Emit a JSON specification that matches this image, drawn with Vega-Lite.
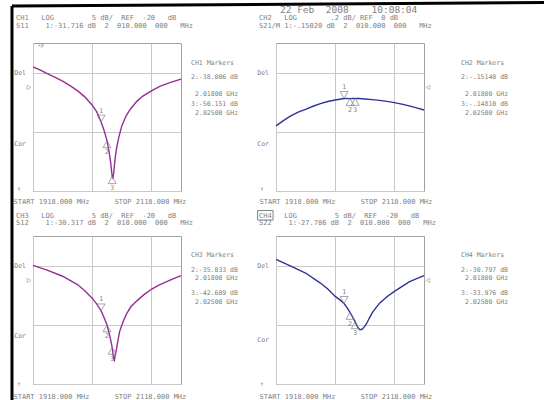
{
  "$schema": "https://vega.github.io/schema/vega-lite/v6.json",
  "background": "white",
  "autosize": {"type": "pad"},
  "padding": {"left": 9, "top": 0, "right": 0, "bottom": 0},
  "datasets": {
    "ch1": [
      {"f":1918,"v":-13.1},{"f":1928,"v":-14.2},{"f":1938,"v":-15.4},{"f":1948,"v":-16.6},{"f":1958,"v":-17.9},
      {"f":1968,"v":-19.4},{"f":1978,"v":-21.1},{"f":1988,"v":-23.2},{"f":1998,"v":-26.0},{"f":2004,"v":-28.2},
      {"f":2010,"v":-31.7},{"f":2014,"v":-34.5},{"f":2018,"v":-38.0},{"f":2021,"v":-42.0},{"f":2023,"v":-45.5},
      {"f":2025,"v":-50.15},{"f":2026,"v":-50.6},{"f":2027,"v":-49.0},{"f":2029,"v":-44.0},{"f":2031,"v":-40.4},
      {"f":2034,"v":-36.8},{"f":2038,"v":-33.0},{"f":2044,"v":-29.5},{"f":2050,"v":-27.2},{"f":2058,"v":-24.8},
      {"f":2066,"v":-23.0},{"f":2078,"v":-21.2},{"f":2090,"v":-19.6},{"f":2104,"v":-18.3},{"f":2118,"v":-17.2}
    ],
    "ch2": [
      {"f":1918,"v":-0.52},{"f":1928,"v":-0.45},{"f":1938,"v":-0.386},{"f":1948,"v":-0.335},{"f":1958,"v":-0.296},
      {"f":1968,"v":-0.255},{"f":1978,"v":-0.22},{"f":1988,"v":-0.19},{"f":1998,"v":-0.17},{"f":2010,"v":-0.1502},
      {"f":2018,"v":-0.1514},{"f":2025,"v":-0.1481},{"f":2030,"v":-0.15},{"f":2038,"v":-0.157},{"f":2048,"v":-0.165},
      {"f":2058,"v":-0.175},{"f":2068,"v":-0.189},{"f":2078,"v":-0.206},{"f":2088,"v":-0.226},{"f":2098,"v":-0.25},
      {"f":2108,"v":-0.277},{"f":2118,"v":-0.306}
    ],
    "ch3": [
      {"f":1918,"v":-14.9},{"f":1938,"v":-16.6},{"f":1958,"v":-18.6},{"f":1978,"v":-21.4},{"f":1988,"v":-23.5},
      {"f":1998,"v":-26.0},{"f":2004,"v":-27.9},{"f":2010,"v":-30.3},{"f":2014,"v":-32.5},{"f":2018,"v":-35.0},
      {"f":2022,"v":-39.0},{"f":2025,"v":-42.6},{"f":2027,"v":-46.5},{"f":2028,"v":-47.0},{"f":2029,"v":-45.5},
      {"f":2031,"v":-43.0},{"f":2033,"v":-40.0},{"f":2035,"v":-37.3},{"f":2040,"v":-33.8},{"f":2044,"v":-31.5},
      {"f":2050,"v":-29.0},{"f":2058,"v":-27.0},{"f":2068,"v":-24.8},{"f":2078,"v":-23.0},{"f":2088,"v":-21.6},
      {"f":2098,"v":-20.5},{"f":2108,"v":-19.4},{"f":2118,"v":-18.4}
    ],
    "ch4": [
      {"f":1918,"v":-12.9},{"f":1938,"v":-15.2},{"f":1958,"v":-17.5},{"f":1978,"v":-20.9},{"f":1988,"v":-22.9},
      {"f":1998,"v":-25.4},{"f":2004,"v":-26.5},{"f":2010,"v":-27.8},{"f":2014,"v":-29.2},{"f":2018,"v":-30.8},
      {"f":2022,"v":-32.6},{"f":2025,"v":-34.0},{"f":2028,"v":-35.6},{"f":2031,"v":-36.6},{"f":2034,"v":-36.6},
      {"f":2037,"v":-35.8},{"f":2040,"v":-34.8},{"f":2044,"v":-32.8},{"f":2048,"v":-31.0},{"f":2053,"v":-29.3},
      {"f":2058,"v":-27.7},{"f":2068,"v":-25.5},{"f":2078,"v":-23.7},{"f":2088,"v":-22.1},{"f":2098,"v":-20.5},
      {"f":2108,"v":-19.4},{"f":2118,"v":-18.4}
    ],
    "m1": [{"f":2010,"v":-31.716,"id":"1"},{"f":2018,"v":-38.006,"id":"2"},{"f":2025,"v":-50.151,"id":"3"}],
    "m2": [{"f":2010,"v":-0.1502,"id":"1"},{"f":2018,"v":-0.1514,"id":"2"},{"f":2025,"v":-0.1481,"id":"3"}],
    "m3": [{"f":2010,"v":-30.317,"id":"1"},{"f":2018,"v":-35.033,"id":"2"},{"f":2025,"v":-42.609,"id":"3"}],
    "m4": [{"f":2010,"v":-27.786,"id":"1"},{"f":2018,"v":-30.797,"id":"2"},{"f":2025,"v":-33.976,"id":"3"}],
    "one": [{"k": 1}]
  },
  "columns": 2,
  "spacing": {"row": 45, "column": 95},
  "bounds": "flush",
  "concat": [
    {
      "width": 148, "height": 148,
      "layer": [
        {"data": {"name": "ch1"}, "mark": {"type": "line", "color": "#962d96", "strokeWidth": 1.4},
         "encoding": {
          "x": {"field": "f", "type": "quantitative", "scale": {"domain": [1918, 2118], "nice": false},
                "axis": {"values": [1918,1938,1958,1978,1998,2018,2038,2058,2078,2098,2118], "title": "START 1918.000 MHz \u00a0\u00a0\u00a0\u00a0\u00a0STOP 2118.000 MHz", "titleX": -20, "titleY": 10}},
          "y": {"field": "v", "type": "quantitative", "scale": {"domain": [-55, -5], "nice": false},
                "axis": {"values": [-55,-50,-45,-40,-35,-30,-25,-20,-15,-10,-5], "title": null}}}},
        {"data": {"name": "one"}, "mark": {"type": "rule", "color": "#000000", "strokeWidth": 3}, "encoding": {"x": {"datum": 1889.6}, "y": {"datum": 7.5}, "y2": {"datum": -126}}},
        {"data": {"name": "one"}, "mark": {"type": "rule", "color": "#000000", "strokeWidth": 3}, "encoding": {"x": {"datum": 1889.6}, "x2": {"datum": 2610}, "y": {"datum": 7.5}, "y2": {"datum": 8.68}}},
        {"data": {"name": "one"}, "mark": {"type": "text", "fontSize": 7}, "encoding": {"x": {"datum": 1895}, "y": {"datum": 3.45}, "text": {"value": "CH1 \u00a0\u00a0LOG \u00a0\u00a0\u00a0\u00a0\u00a0\u00a0\u00a0\u00a05 dB/ \u00a0REF \u00a0-20 \u00a0\u00a0dB"}}},
        {"data": {"name": "one"}, "mark": {"type": "text", "fontSize": 7}, "encoding": {"x": {"datum": 1895}, "y": {"datum": 0.74}, "text": {"value": "S11 \u00a0\u00a0\u00a01:-31.716 dB \u00a02 \u00a0010.000 \u00a0000 \u00a0\u00a0MHz"}}},
        {"data": {"name": "m1"}, "transform": [{"filter": "datum.id == '1'"}], "mark": {"type": "point", "shape": "triangle-down", "size": 64, "filled": false, "color": "#808080", "strokeWidth": 1, "yOffset": -3.5}, "encoding": {"x": {"field": "f", "type": "quantitative"}, "y": {"field": "v", "type": "quantitative"}}},
        {"data": {"name": "m1"}, "transform": [{"filter": "datum.id != '1'"}], "mark": {"type": "point", "shape": "triangle-up", "size": 64, "filled": false, "color": "#808080", "strokeWidth": 1, "yOffset": 3.5}, "encoding": {"x": {"field": "f", "type": "quantitative"}, "y": {"field": "v", "type": "quantitative"}}},
        {"data": {"name": "m1"}, "transform": [{"filter": "datum.id == '1'"}], "mark": {"type": "text", "align": "center", "yOffset": -11.5}, "encoding": {"x": {"field": "f", "type": "quantitative"}, "y": {"field": "v", "type": "quantitative"}, "text": {"field": "id"}}},
        {"data": {"name": "m1"}, "transform": [{"filter": "datum.id != '1'"}], "mark": {"type": "text", "align": "center", "yOffset": 11.5}, "encoding": {"x": {"field": "f", "type": "quantitative"}, "y": {"field": "v", "type": "quantitative"}, "text": {"field": "id"}}},
        {"data": {"name": "one"}, "mark": {"type": "point", "shape": "triangle-right", "size": 20, "filled": false, "color": "#909090", "strokeWidth": 0.8, "xOffset": -4}, "encoding": {"x": {"datum": 1918}, "y": {"datum": -20}}},
        {"data": {"name": "one"}, "mark": {"type": "text", "fontSize": 5}, "encoding": {"x": {"datum": 1924.8}, "y": {"datum": -6}, "text": {"value": "*P"}}},
        {"data": {"name": "one"}, "mark": {"type": "text", "align": "right"}, "encoding": {"x": {"datum": 1908.5}, "y": {"datum": -15.14}, "text": {"value": "Del"}}},
        {"data": {"name": "one"}, "mark": {"type": "text", "align": "right"}, "encoding": {"x": {"datum": 1908.5}, "y": {"datum": -39.12}, "text": {"value": "Cor"}}},
        {"data": {"name": "one"}, "mark": {"type": "text", "align": "center"}, "encoding": {"x": {"datum": 1899.1}, "y": {"datum": -54.3}, "text": {"value": "↑"}}},
        {"data": {"name": "one"}, "mark": {"type": "text"}, "encoding": {"x": {"datum": 2131.5}, "y": {"datum": -11.76}, "text": {"value": "CH1 Markers"}}},
        {"data": {"name": "one"}, "mark": {"type": "text"}, "encoding": {"x": {"datum": 2131.5}, "y": {"datum": -16.49}, "text": {"value": "2:-38.006 dB"}}},
        {"data": {"name": "one"}, "mark": {"type": "text"}, "encoding": {"x": {"datum": 2137}, "y": {"datum": -22.23}, "text": {"value": "2.01800 GHz"}}},
        {"data": {"name": "one"}, "mark": {"type": "text"}, "encoding": {"x": {"datum": 2131.5}, "y": {"datum": -25.61}, "text": {"value": "3:-50.151 dB"}}},
        {"data": {"name": "one"}, "mark": {"type": "text"}, "encoding": {"x": {"datum": 2137}, "y": {"datum": -28.65}, "text": {"value": "2.02500 GHz"}}}
      ]
    },
    {
      "width": 148, "height": 148,
      "layer": [
        {"data": {"name": "ch2"}, "mark": {"type": "line", "color": "#2d3296", "strokeWidth": 1.4},
         "encoding": {
          "x": {"field": "f", "type": "quantitative", "scale": {"domain": [1918, 2118], "nice": false},
                "axis": {"values": [1918,1938,1958,1978,1998,2018,2038,2058,2078,2098,2118], "title": "START 1918.000 MHz \u00a0\u00a0\u00a0\u00a0\u00a0STOP 2118.000 MHz", "titleX": -17, "titleY": 10}},
          "y": {"field": "v", "type": "quantitative", "scale": {"domain": [-1.4, 0.6], "nice": false},
                "axis": {"values": [-1.4,-1.2,-1.0,-0.8,-0.6,-0.4,-0.2,0,0.2,0.4,0.6], "title": null}}}},
        {"data": {"name": "one"}, "mark": {"type": "text", "fontSize": 7}, "encoding": {"x": {"datum": 1895}, "y": {"datum": 0.938}, "text": {"value": "CH2 \u00a0\u00a0LOG \u00a0\u00a0\u00a0\u00a0\u00a0\u00a0\u00a0.2 dB/ REF \u00a00 dB"}}},
        {"data": {"name": "one"}, "mark": {"type": "text", "fontSize": 7}, "encoding": {"x": {"datum": 1895}, "y": {"datum": 0.83}, "text": {"value": "S21/M 1:-.15020 dB \u00a02 \u00a0010.000 \u00a0000 \u00a0\u00a0MHz"}}},
        {"data": {"name": "m2"}, "transform": [{"filter": "datum.id == '1'"}], "mark": {"type": "point", "shape": "triangle-down", "size": 64, "filled": false, "color": "#808080", "strokeWidth": 1, "yOffset": -3.5}, "encoding": {"x": {"field": "f", "type": "quantitative"}, "y": {"field": "v", "type": "quantitative"}}},
        {"data": {"name": "m2"}, "transform": [{"filter": "datum.id != '1'"}], "mark": {"type": "point", "shape": "triangle-up", "size": 64, "filled": false, "color": "#808080", "strokeWidth": 1, "yOffset": 3.5}, "encoding": {"x": {"field": "f", "type": "quantitative"}, "y": {"field": "v", "type": "quantitative"}}},
        {"data": {"name": "m2"}, "transform": [{"filter": "datum.id == '1'"}], "mark": {"type": "text", "align": "center", "yOffset": -11.5}, "encoding": {"x": {"field": "f", "type": "quantitative"}, "y": {"field": "v", "type": "quantitative"}, "text": {"field": "id"}}},
        {"data": {"name": "m2"}, "transform": [{"filter": "datum.id != '1'"}], "mark": {"type": "text", "align": "center", "yOffset": 11.5}, "encoding": {"x": {"field": "f", "type": "quantitative"}, "y": {"field": "v", "type": "quantitative"}, "text": {"field": "id"}}},
        {"data": {"name": "one"}, "mark": {"type": "point", "shape": "triangle-left", "size": 20, "filled": false, "color": "#909090", "strokeWidth": 0.8, "xOffset": 4}, "encoding": {"x": {"datum": 2118}, "y": {"datum": 0}}},
        {"data": {"name": "one"}, "mark": {"type": "text", "fontSize": 9.5}, "encoding": {"x": {"datum": 1923.4}, "y": {"datum": 1.046}, "text": {"value": "22 Feb \u00a02008 \u00a0\u00a0\u00a010:08:04"}}},
        {"data": {"name": "one"}, "mark": {"type": "text", "align": "right"}, "encoding": {"x": {"datum": 1908.5}, "y": {"datum": 0.195}, "text": {"value": "Del"}}},
        {"data": {"name": "one"}, "mark": {"type": "text", "align": "right"}, "encoding": {"x": {"datum": 1908.5}, "y": {"datum": -0.765}, "text": {"value": "Cor"}}},
        {"data": {"name": "one"}, "mark": {"type": "text", "align": "center"}, "encoding": {"x": {"datum": 1899.1}, "y": {"datum": -1.373}, "text": {"value": "↑"}}},
        {"data": {"name": "one"}, "mark": {"type": "text"}, "encoding": {"x": {"datum": 2168}, "y": {"datum": 0.33}, "text": {"value": "CH2 Markers"}}},
        {"data": {"name": "one"}, "mark": {"type": "text"}, "encoding": {"x": {"datum": 2168}, "y": {"datum": 0.141}, "text": {"value": "2:-.15140 dB"}}},
        {"data": {"name": "one"}, "mark": {"type": "text"}, "encoding": {"x": {"datum": 2173.4}, "y": {"datum": -0.089}, "text": {"value": "2.01800 GHz"}}},
        {"data": {"name": "one"}, "mark": {"type": "text"}, "encoding": {"x": {"datum": 2168}, "y": {"datum": -0.224}, "text": {"value": "3:-.14810 dB"}}},
        {"data": {"name": "one"}, "mark": {"type": "text"}, "encoding": {"x": {"datum": 2173.4}, "y": {"datum": -0.346}, "text": {"value": "2.02500 GHz"}}}
      ]
    },
    {
      "width": 148, "height": 148,
      "layer": [
        {"data": {"name": "ch3"}, "mark": {"type": "line", "color": "#962d96", "strokeWidth": 1.4},
         "encoding": {
          "x": {"field": "f", "type": "quantitative", "scale": {"domain": [1918, 2118], "nice": false},
                "axis": {"values": [1918,1938,1958,1978,1998,2018,2038,2058,2078,2098,2118], "title": "START 1918.000 MHz \u00a0\u00a0\u00a0\u00a0\u00a0STOP 2118.000 MHz", "titleX": -20, "titleY": 12}},
          "y": {"field": "v", "type": "quantitative", "scale": {"domain": [-55, -5], "nice": false},
                "axis": {"values": [-55,-50,-45,-40,-35,-30,-25,-20,-15,-10,-5], "title": null}}}},
        {"data": {"name": "one"}, "mark": {"type": "text", "fontSize": 7}, "encoding": {"x": {"datum": 1895}, "y": {"datum": 1.757}, "text": {"value": "CH3 \u00a0\u00a0LOG \u00a0\u00a0\u00a0\u00a0\u00a0\u00a0\u00a0\u00a05 dB/ \u00a0REF \u00a0-20 \u00a0\u00a0dB"}}},
        {"data": {"name": "one"}, "mark": {"type": "text", "fontSize": 7}, "encoding": {"x": {"datum": 1895}, "y": {"datum": -0.608}, "text": {"value": "S12 \u00a0\u00a0\u00a01:-30.317 dB \u00a02 \u00a0010.000 \u00a0000 \u00a0\u00a0MHz"}}},
        {"data": {"name": "m3"}, "transform": [{"filter": "datum.id == '1'"}], "mark": {"type": "point", "shape": "triangle-down", "size": 64, "filled": false, "color": "#808080", "strokeWidth": 1, "yOffset": -3.5}, "encoding": {"x": {"field": "f", "type": "quantitative"}, "y": {"field": "v", "type": "quantitative"}}},
        {"data": {"name": "m3"}, "transform": [{"filter": "datum.id != '1'"}], "mark": {"type": "point", "shape": "triangle-up", "size": 64, "filled": false, "color": "#808080", "strokeWidth": 1, "yOffset": 3.5}, "encoding": {"x": {"field": "f", "type": "quantitative"}, "y": {"field": "v", "type": "quantitative"}}},
        {"data": {"name": "m3"}, "transform": [{"filter": "datum.id == '1'"}], "mark": {"type": "text", "align": "center", "yOffset": -11.5}, "encoding": {"x": {"field": "f", "type": "quantitative"}, "y": {"field": "v", "type": "quantitative"}, "text": {"field": "id"}}},
        {"data": {"name": "m3"}, "transform": [{"filter": "datum.id != '1'"}], "mark": {"type": "text", "align": "center", "yOffset": 11.5}, "encoding": {"x": {"field": "f", "type": "quantitative"}, "y": {"field": "v", "type": "quantitative"}, "text": {"field": "id"}}},
        {"data": {"name": "one"}, "mark": {"type": "point", "shape": "triangle-right", "size": 20, "filled": false, "color": "#909090", "strokeWidth": 0.8, "xOffset": -4}, "encoding": {"x": {"datum": 1918}, "y": {"datum": -20}}},
        {"data": {"name": "one"}, "mark": {"type": "text", "align": "right"}, "encoding": {"x": {"datum": 1908.5}, "y": {"datum": -14.97}, "text": {"value": "Del"}}},
        {"data": {"name": "one"}, "mark": {"type": "text", "align": "right"}, "encoding": {"x": {"datum": 1908.5}, "y": {"datum": -38.78}, "text": {"value": "Cor"}}},
        {"data": {"name": "one"}, "mark": {"type": "text", "align": "center"}, "encoding": {"x": {"datum": 1899.1}, "y": {"datum": -55}, "text": {"value": "↑"}}},
        {"data": {"name": "one"}, "mark": {"type": "text"}, "encoding": {"x": {"datum": 2131.5}, "y": {"datum": -11.42}, "text": {"value": "CH3 Markers"}}},
        {"data": {"name": "one"}, "mark": {"type": "text"}, "encoding": {"x": {"datum": 2131.5}, "y": {"datum": -16.49}, "text": {"value": "2:-35.033 dB"}}},
        {"data": {"name": "one"}, "mark": {"type": "text"}, "encoding": {"x": {"datum": 2137}, "y": {"datum": -19.19}, "text": {"value": "2.01800 GHz"}}},
        {"data": {"name": "one"}, "mark": {"type": "text"}, "encoding": {"x": {"datum": 2131.5}, "y": {"datum": -24.26}, "text": {"value": "3:-42.609 dB"}}},
        {"data": {"name": "one"}, "mark": {"type": "text"}, "encoding": {"x": {"datum": 2137}, "y": {"datum": -27.3}, "text": {"value": "2.02500 GHz"}}}
      ]
    },
    {
      "width": 148, "height": 148,
      "layer": [
        {"data": {"name": "ch4"}, "mark": {"type": "line", "color": "#2d3296", "strokeWidth": 1.4},
         "encoding": {
          "x": {"field": "f", "type": "quantitative", "scale": {"domain": [1918, 2118], "nice": false},
                "axis": {"values": [1918,1938,1958,1978,1998,2018,2038,2058,2078,2098,2118], "title": "START 1918.000 MHz \u00a0\u00a0\u00a0\u00a0\u00a0STOP 2118.000 MHz", "titleX": -17, "titleY": 12}},
          "y": {"field": "v", "type": "quantitative", "scale": {"domain": [-55, -5], "nice": false},
                "axis": {"values": [-55,-50,-45,-40,-35,-30,-25,-20,-15,-10,-5], "title": null}}}},
        {"data": {"name": "one"}, "mark": {"type": "text", "fontSize": 7}, "encoding": {"x": {"datum": 1895}, "y": {"datum": 1.757}, "text": {"value": "CH4 \u00a0\u00a0LOG \u00a0\u00a0\u00a0\u00a0\u00a0\u00a0\u00a0\u00a05 dB/ \u00a0REF \u00a0-20 \u00a0\u00a0dB"}}},
        {"data": {"name": "one"}, "mark": {"type": "text", "fontSize": 7}, "encoding": {"x": {"datum": 1895}, "y": {"datum": -0.608}, "text": {"value": "S22 \u00a0\u00a0\u00a01:-27.786 dB \u00a02 \u00a0010.000 \u00a0000 \u00a0\u00a0MHz"}}},
        {"data": {"name": "one"}, "mark": {"type": "rect", "filled": false, "stroke": "#808080", "strokeWidth": 1}, "encoding": {"x": {"datum": 1893.2}, "x2": {"datum": 1914}, "y": {"datum": 3.6}, "y2": {"datum": 0.4}}},
        {"data": {"name": "m4"}, "transform": [{"filter": "datum.id == '1'"}], "mark": {"type": "point", "shape": "triangle-down", "size": 64, "filled": false, "color": "#808080", "strokeWidth": 1, "yOffset": -3.5}, "encoding": {"x": {"field": "f", "type": "quantitative"}, "y": {"field": "v", "type": "quantitative"}}},
        {"data": {"name": "m4"}, "transform": [{"filter": "datum.id != '1'"}], "mark": {"type": "point", "shape": "triangle-up", "size": 64, "filled": false, "color": "#808080", "strokeWidth": 1, "yOffset": 3.5}, "encoding": {"x": {"field": "f", "type": "quantitative"}, "y": {"field": "v", "type": "quantitative"}}},
        {"data": {"name": "m4"}, "transform": [{"filter": "datum.id == '1'"}], "mark": {"type": "text", "align": "center", "yOffset": -11.5}, "encoding": {"x": {"field": "f", "type": "quantitative"}, "y": {"field": "v", "type": "quantitative"}, "text": {"field": "id"}}},
        {"data": {"name": "m4"}, "transform": [{"filter": "datum.id != '1'"}], "mark": {"type": "text", "align": "center", "yOffset": 11.5}, "encoding": {"x": {"field": "f", "type": "quantitative"}, "y": {"field": "v", "type": "quantitative"}, "text": {"field": "id"}}},
        {"data": {"name": "one"}, "mark": {"type": "point", "shape": "triangle-left", "size": 20, "filled": false, "color": "#909090", "strokeWidth": 0.8, "xOffset": 4}, "encoding": {"x": {"datum": 2118}, "y": {"datum": -20}}},
        {"data": {"name": "one"}, "mark": {"type": "text", "align": "right"}, "encoding": {"x": {"datum": 1908.5}, "y": {"datum": -14.97}, "text": {"value": "Del"}}},
        {"data": {"name": "one"}, "mark": {"type": "text", "align": "right"}, "encoding": {"x": {"datum": 1908.5}, "y": {"datum": -40.1}, "text": {"value": "Cor"}}},
        {"data": {"name": "one"}, "mark": {"type": "text", "align": "center"}, "encoding": {"x": {"datum": 1899.1}, "y": {"datum": -55}, "text": {"value": "↑"}}},
        {"data": {"name": "one"}, "mark": {"type": "text"}, "encoding": {"x": {"datum": 2168}, "y": {"datum": -11.42}, "text": {"value": "CH4 Markers"}}},
        {"data": {"name": "one"}, "mark": {"type": "text"}, "encoding": {"x": {"datum": 2168}, "y": {"datum": -16.49}, "text": {"value": "2:-30.797 dB"}}},
        {"data": {"name": "one"}, "mark": {"type": "text"}, "encoding": {"x": {"datum": 2173.4}, "y": {"datum": -19.19}, "text": {"value": "2.01800 GHz"}}},
        {"data": {"name": "one"}, "mark": {"type": "text"}, "encoding": {"x": {"datum": 2168}, "y": {"datum": -24.26}, "text": {"value": "3:-33.976 dB"}}},
        {"data": {"name": "one"}, "mark": {"type": "text"}, "encoding": {"x": {"datum": 2173.4}, "y": {"datum": -27.3}, "text": {"value": "2.02500 GHz"}}}
      ]
    }
  ],
  "config": {
    "view": {"stroke": "#a0a0a0", "strokeWidth": 1},
    "axis": {"grid": true, "gridColor": "#c8c8c8", "gridWidth": 1, "labels": false, "ticks": false, "domain": false,
             "titleFont": "DejaVu Sans Mono", "titleFontSize": 7, "titleFontWeight": "normal", "titleColor": "#808080",
             "titleAlign": "left", "titleBaseline": "middle", "titleAnchor": "start"},
    "text": {"font": "DejaVu Sans Mono", "fontSize": 6.5, "color": "#808080", "baseline": "middle", "align": "left"}
  }
}
